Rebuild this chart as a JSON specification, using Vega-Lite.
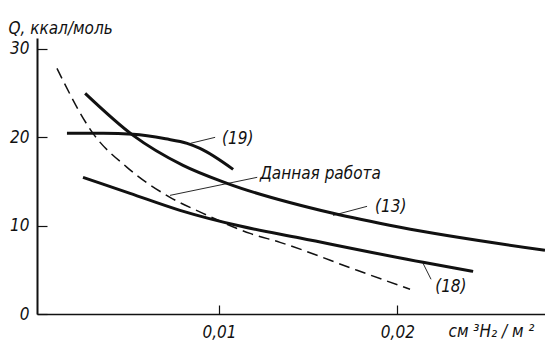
{
  "$schema": "https://vega.github.io/schema/vega-lite/v6.json",
  "autosize": {"type": "none"},
  "padding": {"left": 37, "top": 38, "right": 0, "bottom": 29},
  "width": 508,
  "height": 276,
  "background": "white",
  "config": {
    "view": {"stroke": null},
    "font": "DejaVu Sans Condensed",
    "text": {"font": "DejaVu Sans Condensed", "fontStyle": "italic", "color": "#111"}
  },
  "datasets": {
    "curves": [
      {"series": "13", "x": 0.00249, "q": 24.94},
      {"series": "13", "x": 0.00518, "q": 20.19},
      {"series": "13", "x": 0.00798, "q": 16.80},
      {"series": "13", "x": 0.01045, "q": 14.77},
      {"series": "13", "x": 0.01639, "q": 11.38},
      {"series": "13", "x": 0.02015, "q": 9.80},
      {"series": "13", "x": 0.02828, "q": 7.20},
      {"series": "19", "x": 0.00147, "q": 20.42},
      {"series": "19", "x": 0.0035, "q": 20.42},
      {"series": "19", "x": 0.00518, "q": 20.31},
      {"series": "19", "x": 0.0070, "q": 19.8},
      {"series": "19", "x": 0.00821, "q": 19.29},
      {"series": "19", "x": 0.00893, "q": 18.72},
      {"series": "19", "x": 0.01079, "q": 16.35},
      {"series": "18", "x": 0.00237, "q": 15.45},
      {"series": "18", "x": 0.00501, "q": 13.64},
      {"series": "18", "x": 0.00781, "q": 11.72},
      {"series": "18", "x": 0.01118, "q": 9.94},
      {"series": "18", "x": 0.01454, "q": 8.59},
      {"series": "18", "x": 0.02144, "q": 5.84},
      {"series": "18", "x": 0.02425, "q": 4.82},
      {"series": "this", "x": 0.00091, "q": 27.76},
      {"series": "this", "x": 0.00293, "q": 20.42},
      {"series": "this", "x": 0.00484, "q": 16.58},
      {"series": "this", "x": 0.00725, "q": 13.19},
      {"series": "this", "x": 0.00910, "q": 11.38},
      {"series": "this", "x": 0.01174, "q": 9.11},
      {"series": "this", "x": 0.01342, "q": 8.10},
      {"series": "this", "x": 0.01774, "q": 4.94},
      {"series": "this", "x": 0.02071, "q": 2.79}
    ],
    "leaders": [
      {"x": 0.00839, "q": 19.29, "x2": 0.00978, "q2": 19.97},
      {"x": 0.00725, "q": 13.41, "x2": 0.01214, "q2": 15.45},
      {"x": 0.01639, "q": 11.15, "x2": 0.01830, "q2": 12.17},
      {"x": 0.02144, "q": 5.73, "x2": 0.02189, "q2": 3.92}
    ],
    "labels": [
      {"x": 0.01017, "q": 19.74, "label": "(19)"},
      {"x": 0.01229, "q": 15.79, "label": "Данная  работа"},
      {"x": 0.01875, "q": 12.06, "label": "(13)"},
      {"x": 0.02212, "q": 3.02, "label": "(18)"}
    ]
  },
  "layer": [
    {
      "data": {"name": "curves"},
      "transform": [{"filter": "datum.series != 'this'"}],
      "mark": {"type": "line", "color": "#111", "strokeWidth": 3, "interpolate": "monotone", "strokeCap": "butt"},
      "encoding": {
        "x": {
          "field": "x", "type": "quantitative",
          "scale": {"domain": [-0.00021, 0.02828], "nice": false, "zero": false},
          "axis": {
            "values": [0.01, 0.02],
            "labelExpr": "replace(format(datum.value, '.2f'), '.', ',')",
            "grid": false, "domainColor": "#111", "domainWidth": 1.5,
            "tickColor": "#111", "tickWidth": 1.2, "tickSize": -9,
            "labelPadding": 19, "labelFont": "DejaVu Sans Condensed", "labelFontStyle": "italic",
            "labelFontSize": 17, "labelColor": "#111",
            "title": "см ³H₂ / м ²", "titleFont": "DejaVu Sans Condensed", "titleFontStyle": "italic",
            "titleFontWeight": "normal", "titleFontSize": 17, "titleColor": "#111",
            "titleAnchor": "start", "titleAlign": "left", "titleX": 411, "titleY": 22, "titleBaseline": "alphabetic"
          }
        },
        "y": {
          "field": "q", "type": "quantitative",
          "scale": {"domain": [0, 31.2], "nice": false},
          "axis": {
            "values": [0, 10, 20, 30],
            "grid": false, "domainColor": "#111", "domainWidth": 2,
            "tickColor": "#111", "tickWidth": 1.2, "tickSize": -10,
            "labelPadding": 18, "labelFont": "DejaVu Sans Condensed", "labelFontStyle": "italic",
            "labelFontSize": 17, "labelColor": "#111",
            "title": "Q, ккал/моль", "titleFont": "DejaVu Sans Condensed", "titleFontStyle": "italic",
            "titleFontWeight": "normal", "titleFontSize": 17, "titleColor": "#111",
            "titleAngle": 0, "titleAlign": "left", "titleX": -29, "titleY": -5, "titleBaseline": "alphabetic"
          }
        },
        "detail": {"field": "series"}
      }
    },
    {
      "data": {"name": "curves"},
      "transform": [{"filter": "datum.series == 'this'"}],
      "mark": {"type": "line", "color": "#111", "strokeWidth": 1.5, "strokeDash": [11, 6], "interpolate": "monotone"},
      "encoding": {
        "x": {"field": "x", "type": "quantitative"},
        "y": {"field": "q", "type": "quantitative"}
      }
    },
    {
      "data": {"name": "leaders"},
      "mark": {"type": "rule", "color": "#111", "strokeWidth": 0.9},
      "encoding": {
        "x": {"field": "x", "type": "quantitative"},
        "y": {"field": "q", "type": "quantitative"},
        "x2": {"field": "x2"},
        "y2": {"field": "q2"}
      }
    },
    {
      "data": {"name": "labels"},
      "mark": {"type": "text", "fontSize": 17, "baseline": "middle", "align": "left"},
      "encoding": {
        "x": {"field": "x", "type": "quantitative"},
        "y": {"field": "q", "type": "quantitative"},
        "text": {"field": "label"}
      }
    }
  ]
}
